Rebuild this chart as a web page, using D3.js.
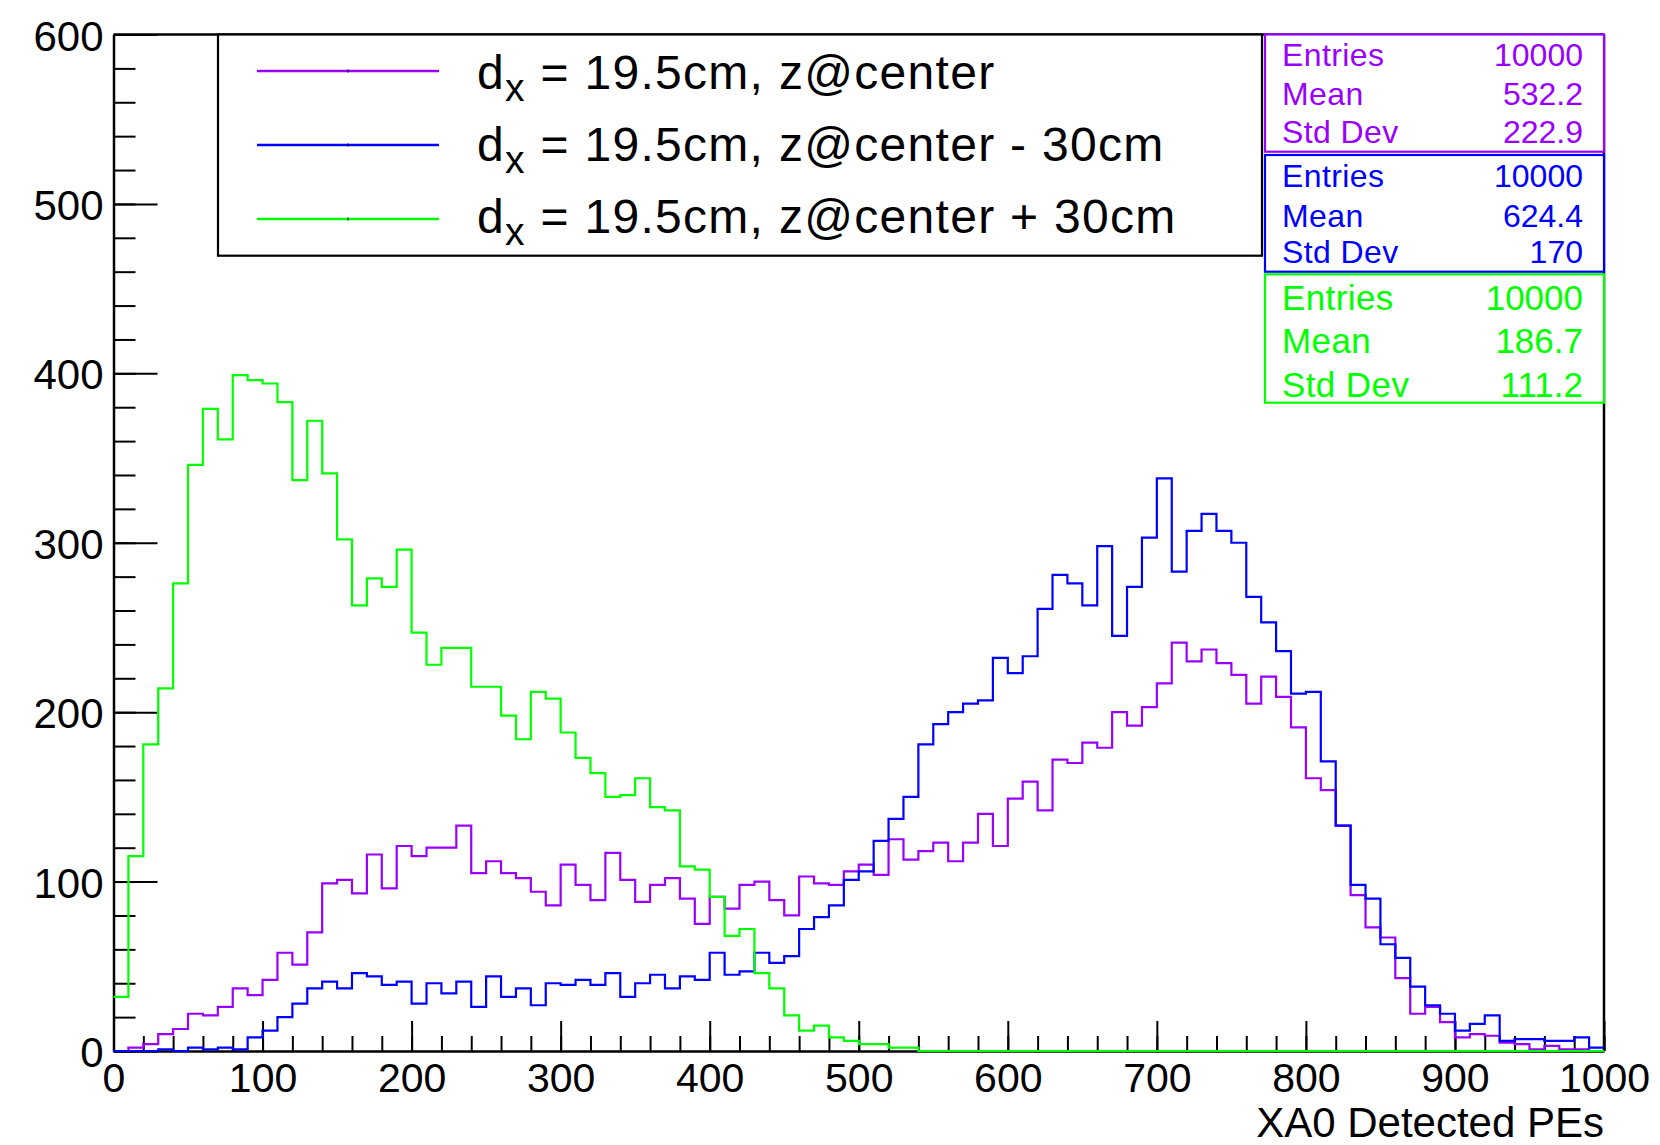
<!DOCTYPE html>
<html>
<head>
<meta charset="utf-8">
<script src="https://cdn.jsdelivr.net/npm/d3@7"></script>
<style>
  html, body { margin: 0; padding: 0; background: #fff; }
  svg { display: block; font-family: "Liberation Sans", Arial, Helvetica, sans-serif; }
</style>
</head>
<body>
<svg id="chart" width="1660" height="1145"></svg>
<script>
// ---- Data (100 bins, 0..1000, width 10) ----
const binEdges = [0, 1000];
const binWidth = 10;

const seriesNames = [
  "z@center",
  "z@center - 30cm",
  "z@center + 30cm"
];

const violetCounts = [
  0, 2, 4, 10, 13, 22, 21, 26, 37, 33,
  42, 58, 51, 70, 99, 101, 93, 116, 96, 121,
  115, 120, 120, 133, 105, 112, 105, 102, 94, 86,
  110, 98, 89, 117, 101, 88, 98, 102, 90, 75,
  91, 84, 98, 100, 89, 80, 103, 99, 98, 106,
  110, 104, 125, 113, 118, 123, 112, 123, 140, 121,
  149, 159, 142, 172, 170, 182, 179, 200, 192, 203,
  217, 241, 230, 237, 229, 222, 205, 221, 209, 191,
  161, 154, 133, 92, 73, 67, 43, 22, 26, 17,
  8, 10, 9, 5, 4, 1, 3, 1, 1, 0
];

const blueCounts = [
  0, 0, 0, 1, 0, 2, 1, 2, 1, 8,
  12, 20, 28, 37, 41, 37, 46, 44, 39, 41,
  28, 40, 34, 41, 26, 44, 32, 37, 27, 40,
  39, 42, 39, 46, 32, 40, 45, 37, 44, 42,
  58, 45, 47, 58, 52, 56, 72, 79, 86, 101,
  106, 124, 137, 150, 181, 193, 200, 205, 207, 232,
  223, 233, 261, 281, 276, 263, 298, 245, 274, 303,
  338, 283, 307, 317, 307, 300, 268, 253, 236, 211,
  212, 171, 133, 98, 90, 63, 55, 38, 27, 22,
  12, 16, 21, 6, 7, 7, 6, 6, 8, 2
];

const greenCounts = [
  32, 115, 181, 214, 276, 346, 379, 361, 399, 396,
  394, 383, 337, 372, 341, 302, 263, 279, 274, 296,
  247, 228, 238, 238, 215, 215, 198, 184, 212, 208,
  188, 173, 164, 150, 151, 161, 144, 142, 109, 107,
  91, 68, 72, 46, 37, 21, 12, 15, 8, 6,
  4, 4, 2, 2, 0, 0, 0, 0, 0, 0,
  0, 0, 0, 0, 0, 0, 0, 0, 0, 0,
  0, 0, 0, 0, 0, 0, 0, 0, 0, 0,
  0, 0, 0, 0, 0, 0, 0, 0, 0, 0,
  0, 0, 0, 0, 0, 0, 0, 0, 0, 0
];

const statLabels = ["Entries", "Mean", "Std Dev"];
const violetStats = ["10000", "532.2", "222.9"];
const blueStats = ["10000", "624.4", "170"];
const greenStats = ["10000", "186.7", "111.2"];

const yMajorTicks = [0, 100, 200, 300, 400, 500, 600];
const xMajorTicks = [0, 100, 200, 300, 400, 500, 600, 700, 800, 900, 1000];
const xTitle = "XA0 Detected PEs";

(function () {
// ---- Setup ----
const svg = d3.select("#chart");
const pL = 113.5, pR = 1604, pT = 34.5, pB = 1051;
const x = d3.scaleLinear().domain([0, 1000]).range([pL, pR]);
const y = d3.scaleLinear().domain([0, 600]).range([pB, pT]);

const colViolet = "#9900ff", colBlue = "#0000ff", colGreen = "#00ff00";

// ---- Axes ----
const minorX = d3.range(0, 1001, 20);
const minorY = d3.range(0, 601, 20);

const gy = svg.append("g").attr("transform", `translate(${pL},0)`);
gy.call(d3.axisLeft(y).tickValues(minorY).tickSizeInner(-22).tickSizeOuter(0).tickFormat(""));
gy.call(g => g.selectAll(".tick line").attr("stroke", "#000").attr("stroke-width", 2));
gy.call(g => g.select(".domain").remove());
const gy2 = svg.append("g").attr("transform", `translate(${pL},0)`);
gy2.call(d3.axisLeft(y).tickValues(yMajorTicks).tickSizeInner(-44).tickSizeOuter(0).tickPadding(10).tickFormat(d3.format("d")));
gy2.call(g => g.select(".domain").attr("stroke", "#000").attr("stroke-width", 2.5));
gy2.call(g => g.selectAll(".tick line").attr("stroke", "#000").attr("stroke-width", 2));
gy2.call(g => g.selectAll(".tick text").attr("font-size", 42).attr("fill", "#000")
  .attr("font-family", "Liberation Sans, Arial, sans-serif").attr("dy", "0.37em"));

const gx = svg.append("g").attr("transform", `translate(0,${pB})`);
gx.call(d3.axisBottom(x).tickValues(minorX).tickSizeInner(-15).tickSizeOuter(0).tickFormat(""));
gx.call(g => g.selectAll(".tick line").attr("stroke", "#000").attr("stroke-width", 2));
gx.call(g => g.select(".domain").remove());
const gx2 = svg.append("g").attr("transform", `translate(0,${pB})`);
gx2.call(d3.axisBottom(x).tickValues(xMajorTicks).tickSizeInner(-30).tickSizeOuter(0).tickPadding(12).tickFormat(d3.format("d")));
gx2.call(g => g.select(".domain").attr("stroke", "#000").attr("stroke-width", 2.5));
gx2.call(g => g.selectAll(".tick line").attr("stroke", "#000").attr("stroke-width", 2));
gx2.call(g => g.selectAll(".tick text").attr("font-size", 41).attr("fill", "#000")
  .attr("font-family", "Liberation Sans, Arial, sans-serif"));

// frame top / right
svg.append("line").attr("x1", x(0)).attr("x2", x(1000)).attr("y1", y(600)).attr("y2", y(600))
  .attr("stroke", "#000").attr("stroke-width", 2.5);
svg.append("line").attr("x1", x(1000)).attr("x2", x(1000)).attr("y1", y(600)).attr("y2", y(0))
  .attr("stroke", "#000").attr("stroke-width", 2.5);

// x title
svg.append("text").attr("x", pR).attr("y", 1137).attr("text-anchor", "end")
  .attr("font-size", 42).attr("fill", "#000").text(xTitle);

// ---- Histograms ----
function stepPoints(counts) {
  const pts = counts.map((v, i) => [binEdges[0] + i * binWidth, v]);
  pts.push([binEdges[1], counts[counts.length - 1]]);
  return pts;
}
const line = d3.line().x(d => x(d[0])).y(d => y(d[1])).curve(d3.curveStepAfter);
[[violetCounts, colViolet], [blueCounts, colBlue], [greenCounts, colGreen]].forEach(([c, col]) => {
  svg.append("path").attr("d", line(stepPoints(c))).attr("fill", "none")
    .attr("stroke", col).attr("stroke-width", 2.2).attr("stroke-linejoin", "miter");
});

// ---- Legend ----
svg.append("rect").attr("x", 218).attr("y", 34.5).attr("width", 1262 - 218).attr("height", 255.7 - 34.5)
  .attr("fill", "#fff").attr("stroke", "#000").attr("stroke-width", 2.2);
const legendRows = [
  { name: seriesNames[0], col: colViolet, ly: 71, ty: 89 },
  { name: seriesNames[1], col: colBlue, ly: 145, ty: 161 },
  { name: seriesNames[2], col: colGreen, ly: 219, ty: 233 }
];
legendRows.forEach(r => {
  svg.append("line").attr("x1", 257).attr("x2", 439).attr("y1", r.ly).attr("y2", r.ly)
    .attr("stroke", r.col).attr("stroke-width", 2.5);
  svg.append("line").attr("x1", 348).attr("x2", 348).attr("y1", r.ly - 1.5).attr("y2", r.ly + 1.5)
    .attr("stroke", "#000").attr("stroke-width", 1.2);
  const t = svg.append("text").attr("x", 477).attr("y", r.ty).attr("font-size", 48)
    .attr("letter-spacing", 1.3).attr("fill", "#000");
  t.append("tspan").text("d");
  t.append("tspan").attr("font-size", 39).attr("dy", 12).text("x");
  t.append("tspan").attr("dy", -12).text(" = 19.5cm, " + r.name);
});

// ---- Stat boxes ----
const boxes = [
  { stats: violetStats, col: colViolet, y0: 34.5, y1: 151.7, base: [65.7, 105, 143.3], fs: 32 },
  { stats: blueStats, col: colBlue, y0: 155, y1: 271.7, base: [186.7, 226.7, 263.3], fs: 32 },
  { stats: greenStats, col: colGreen, y0: 274.3, y1: 402.7, base: [310, 353.3, 396.7], fs: 35 }
];
boxes.forEach(b => {
  svg.append("rect").attr("x", 1265).attr("y", b.y0).attr("width", 1604 - 1265).attr("height", b.y1 - b.y0)
    .attr("fill", "#fff").attr("stroke", b.col).attr("stroke-width", 2.2);
  statLabels.forEach((lab, i) => {
    svg.append("text").attr("x", 1282).attr("y", b.base[i]).attr("font-size", b.fs)
      .attr("letter-spacing", 0.4).attr("fill", b.col).text(lab);
    svg.append("text").attr("x", 1583).attr("y", b.base[i]).attr("font-size", b.fs)
      .attr("text-anchor", "end").attr("fill", b.col).text(b.stats[i]);
  });
});
})();
</script>
</body>
</html>
